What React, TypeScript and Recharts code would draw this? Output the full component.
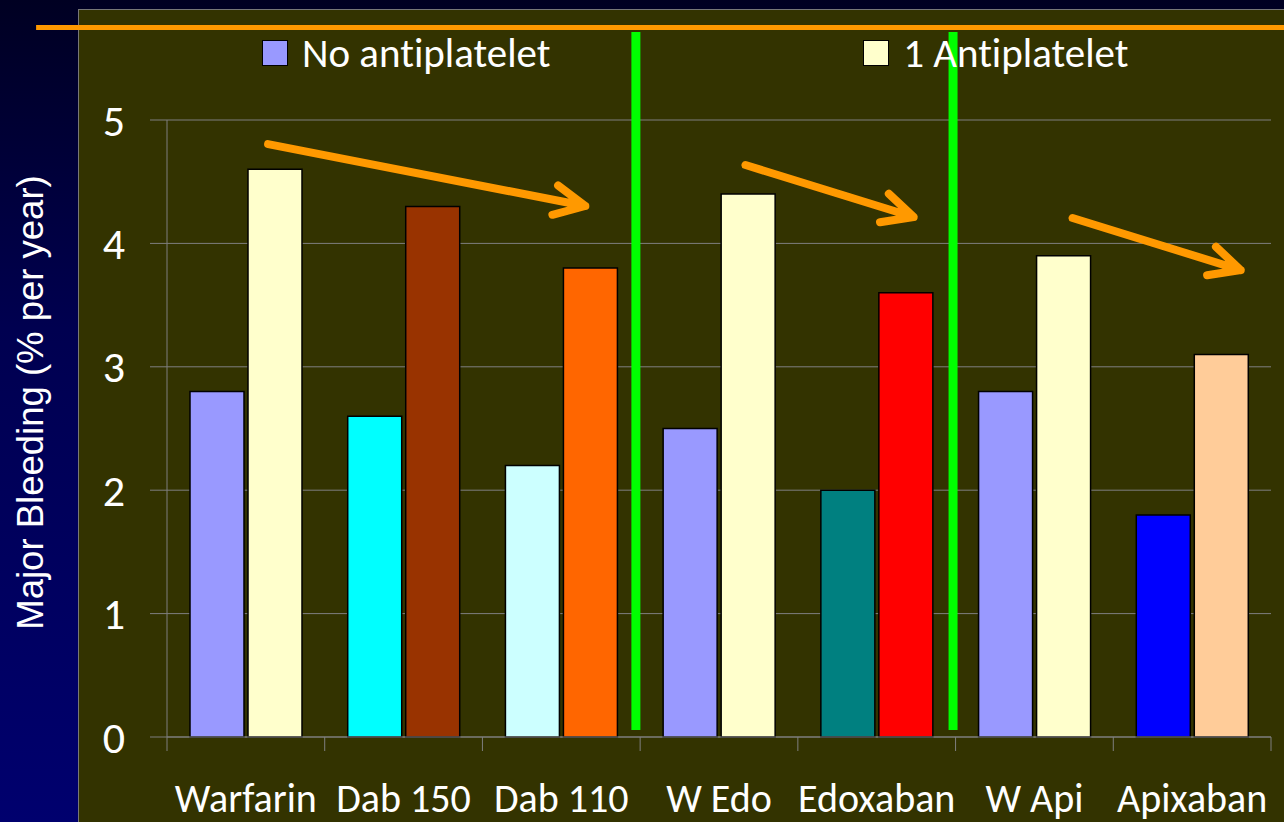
import {
  ComposedChart,
  Bar,
  Cell,
  XAxis,
  YAxis,
  CartesianGrid,
  Legend,
  ReferenceLine,
} from 'recharts';

const categories = ['Warfarin', 'Dab 150', 'Dab 110', 'W Edo', 'Edoxaban', 'W Api', 'Apixaban'];
const noAntiplatelet = [2.8, 2.6, 2.2, 2.5, 2.0, 2.8, 1.8];
const oneAntiplatelet = [4.6, 4.3, 3.8, 4.4, 3.6, 3.9, 3.1];
const yTicks = [0, 1, 2, 3, 4, 5];
const seriesNames = ['No antiplatelet', '1 Antiplatelet'];

// colours used by the original slide, one per bar
const noColors = ['#9999FF', '#00FFFF', '#CCFFFF', '#9999FF', '#008080', '#9999FF', '#0000FF'];
const oneColors = ['#FFFFCC', '#993300', '#FF6600', '#FFFFCC', '#FF0000', '#FFFFCC', '#FFCC99'];

// annotations in data space (x = position on a 0..7 slot axis)
const dividers = [2.973, 4.984];
const arrows = [
  { x1: 0.641, y1: 4.805, x2: 2.652, y2: 4.303 },
  { x1: 3.668, y1: 4.635, x2: 4.734, y2: 4.214 },
  { x1: 5.742, y1: 4.206, x2: 6.808, y2: 3.784 },
];

const data = categories.map((name, i) => ({
  name,
  slot: i + 0.5,
  none: noAntiplatelet[i],
  one: oneAntiplatelet[i],
}));

const FONT = 'Carlito, Lato, sans-serif';
const GRID = '#7f7f7f';

function ArrowShape(props: any) {
  const { x1, y1, x2, y2 } = props;
  const a = Math.atan2(y2 - y1, x2 - x1);
  const len = 34;
  const spread = (26 * Math.PI) / 180;
  const ax = x2 - len * Math.cos(a - spread);
  const ay = y2 - len * Math.sin(a - spread);
  const bx = x2 - len * Math.cos(a + spread);
  const by = y2 - len * Math.sin(a + spread);
  return (
    <path
      d={`M${x1},${y1} L${x2},${y2} M${ax},${ay} L${x2},${y2} L${bx},${by}`}
      stroke="#FF9900"
      strokeWidth={8}
      strokeLinecap="round"
      strokeLinejoin="round"
      fill="none"
    />
  );
}

function CategoryTick(props: any) {
  const { x, y, payload, index, visibleTicksCount } = props;
  const off = payload.offset || 0;
  const last = index === visibleTicksCount - 1;
  return (
    <g>
      <line x1={x - off} y1={y} x2={x - off} y2={y + 14} stroke={GRID} />
      {last && <line x1={x + off} y1={y} x2={x + off} y2={y + 14} stroke={GRID} />}
      <text
        x={x}
        y={y + 75}
        textAnchor="middle"
        fill="#fff"
        fontSize={40}
        fontFamily={FONT}
        style={{ fontVariantLigatures: 'none' }}
      >
        {payload.value}
      </text>
    </g>
  );
}

function LegendContent(props: any) {
  const items = [...(props.payload || [])].sort(
    (a: any, b: any) => seriesNames.indexOf(a.value) - seriesNames.indexOf(b.value)
  );
  return (
    <div style={{ display: 'flex' }}>
      {items.map((p: any, i: number) => (
        <div
          key={p.value}
          style={{ display: 'flex', alignItems: 'center', width: i === 0 ? 603 : 400, height: 28 }}
        >
          <span
            style={{
              width: 24,
              height: 24,
              background: p.color,
              border: '1.5px solid #000',
              marginRight: 14,
            }}
          />
          <span
            style={{
              color: '#fff',
              fontSize: 41,
              fontFamily: FONT,
              lineHeight: '28px',
              fontVariantLigatures: 'none',
            }}
          >
            {p.value}
          </span>
        </div>
      ))}
    </div>
  );
}

function YLabel(props: any) {
  const { viewBox } = props;
  const x = viewBox.x + 30;
  const y = viewBox.y + viewBox.height / 2 - 26;
  return (
    <text
      x={x}
      y={y}
      transform={`rotate(-90, ${x}, ${y})`}
      textAnchor="middle"
      dominantBaseline="central"
      fill="#fff"
      fontSize={36.5}
      fontFamily="'Liberation Sans', Arial, sans-serif"
    >
      Major Bleeding (% per year)
    </text>
  );
}

export default function App() {
  return (
    <div
      style={{
        position: 'absolute',
        left: 0,
        top: 0,
        width: 1284,
        height: 822,
        background: 'linear-gradient(to bottom, #000022 0%, #000050 40%, #00006e 100%)',
        overflow: 'hidden',
      }}
    >
      <div
        style={{
          position: 'absolute',
          left: 78,
          top: 9,
          width: 1284 - 78,
          height: 822 - 9,
          background: '#333300',
          borderLeft: '1px solid #777',
          borderTop: '1px solid #777',
        }}
      />
      <div style={{ position: 'absolute', left: 0, top: 0 }}>
        <ComposedChart
          width={1284}
          height={822}
          data={data}
          margin={{ top: 120, right: 13, left: 0, bottom: 0 }}
          barSize={54}
          barGap={4}
        >
          <CartesianGrid horizontal vertical={false} stroke={GRID} />
          <XAxis
            dataKey="name"
            height={85}
            axisLine={{ stroke: GRID }}
            tickLine={false}
            tickSize={0}
            tickMargin={0}
            interval={0}
            tick={<CategoryTick />}
          />
          <XAxis
            xAxisId="n"
            dataKey="slot"
            type="number"
            domain={[0, 7]}
            allowDataOverflow
            hide
          />
          <YAxis
            width={167}
            domain={[0, 5]}
            ticks={yTicks}
            axisLine={{ stroke: GRID }}
            tickLine={{ stroke: GRID }}
            tickSize={17}
            tickMargin={25}
            tick={{ fill: '#fff', fontSize: 44, fontFamily: FONT }}
            label={<YLabel />}
          />
          <Legend
            layout="horizontal"
            verticalAlign="middle"
            align="center"
            wrapperStyle={{ top: 39, left: 262, width: 1000 }}
            content={<LegendContent />}
          />
          <Bar dataKey="none" name={seriesNames[0]} fill="#9999FF" stroke="#000" strokeWidth={1.5} isAnimationActive={false}>
            {data.map((d, i) => (
              <Cell key={d.name} fill={noColors[i]} />
            ))}
          </Bar>
          <Bar dataKey="one" name={seriesNames[1]} fill="#FFFFCC" stroke="#000" strokeWidth={1.5} isAnimationActive={false}>
            {data.map((d, i) => (
              <Cell key={d.name} fill={oneColors[i]} />
            ))}
          </Bar>
          <ReferenceLine
            xAxisId="n"
            segment={[{ x: -0.83, y: 5.75 }, { x: 7.2, y: 5.75 }]}
            stroke="#FF9900"
            strokeWidth={5}
            ifOverflow="visible"
          />
          {dividers.map((x) => (
            <ReferenceLine
              key={x}
              xAxisId="n"
              segment={[{ x, y: 0.057 }, { x, y: 5.713 }]}
              stroke="#00FF00"
              strokeWidth={9}
              ifOverflow="visible"
            />
          ))}
          {arrows.map((a) => (
            <ReferenceLine
              key={a.x1}
              xAxisId="n"
              segment={[{ x: a.x1, y: a.y1 }, { x: a.x2, y: a.y2 }]}
              ifOverflow="visible"
              shape={<ArrowShape />}
            />
          ))}
        </ComposedChart>
      </div>
    </div>
  );
}
